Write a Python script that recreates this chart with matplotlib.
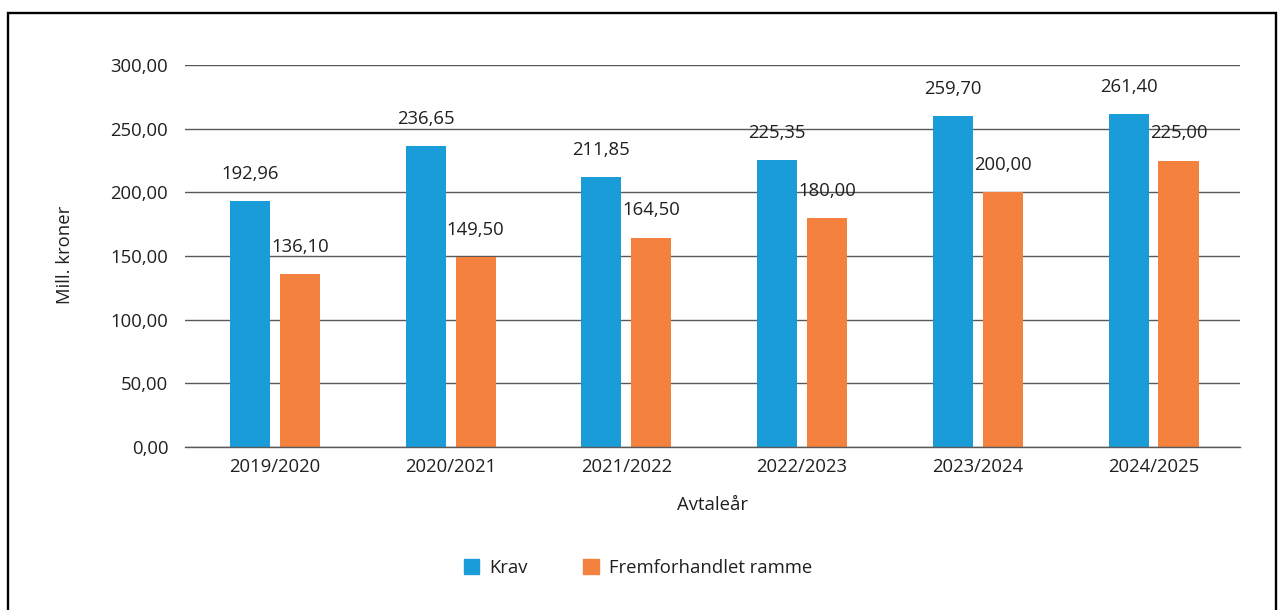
import matplotlib.pyplot as plt
import numpy as np
from matplotlib.patches import Patch, Rectangle

plt.rcParams['font.family'] = ['Open Sans', 'DejaVu Sans']

years = ['2019/2020', '2020/2021', '2021/2022', '2022/2023', '2023/2024', '2024/2025']
krav = [192.96, 236.65, 211.85, 225.35, 259.70, 261.40]
ramme = [136.10, 149.50, 164.50, 180.00, 200.00, 225.00]
yticks = [0, 50, 100, 150, 200, 250, 300]

blue = '#1a9cd9'
orange = '#f4813e'
text_col = '#231f20'
fs = 13.3


def fmt(v):
    return f'{v:,.2f}'.replace(',', ' ').replace('.', ',')


fig = plt.figure(figsize=(12.81, 6.10), dpi=100)
ax = fig.add_axes([185 / 1281, 1 - 447 / 610, 1055 / 1281, 382 / 610])

x = np.arange(len(years))
w = 0.228
off = 0.142
b1 = ax.bar(x - off, krav, w, color=blue, zorder=2)
b2 = ax.bar(x + off, ramme, w, color=orange, zorder=2)

# verdier over søylene
for bars, vals in ((b1, krav), (b2, ramme)):
    for rect, v in zip(bars, vals):
        ax.annotate(fmt(v), (rect.get_x() + rect.get_width() / 2, v),
                    xytext=(0, 13), textcoords='offset points',
                    ha='center', va='bottom', fontsize=fs, color=text_col)

ax.set_xlim(-0.512, 5.492)
ax.set_ylim(0, 300)
ax.set_yticks(yticks)
ax.set_yticklabels([fmt(v) for v in yticks])
ax.set_xticks(x)
ax.set_xticklabels(years)
ax.tick_params(axis='both', length=0, labelsize=fs, labelcolor=text_col)
ax.tick_params(axis='y', pad=12)
ax.tick_params(axis='x', pad=8)
ax.grid(axis='y', color='#58595b', linewidth=1.0, zorder=0)
ax.set_axisbelow(True)
for s in ('top', 'right', 'left'):
    ax.spines[s].set_visible(False)
ax.spines['bottom'].set_color('#58595b')
ax.spines['bottom'].set_linewidth(1.0)

fig.text(713 / 1281, 1 - 505 / 610, 'Avtaleår', ha='center', va='center',
         fontsize=fs, color=text_col)
fig.text(65 / 1281, 1 - 255 / 610, 'Mill. kroner', ha='center', va='center',
         rotation=90, fontsize=fs, color=text_col)

handles = [Patch(color=blue, label='Krav'), Patch(color=orange, label='Fremforhandlet ramme')]
fig.legend(handles=handles, loc='center', bbox_to_anchor=(638 / 1281, 1 - 568 / 610),
           ncol=2, frameon=False, fontsize=fs, handlelength=0.85, handleheight=0.85,
           handletextpad=0.55, columnspacing=3.0, labelcolor=text_col)

fig.patches.append(Rectangle((8 / 1281, -0.1), 1268 / 1281, 1.1 - 13 / 610,
                             transform=fig.transFigure, fill=False,
                             edgecolor='black', linewidth=1.7))

fig.savefig('out.png', dpi=100)
